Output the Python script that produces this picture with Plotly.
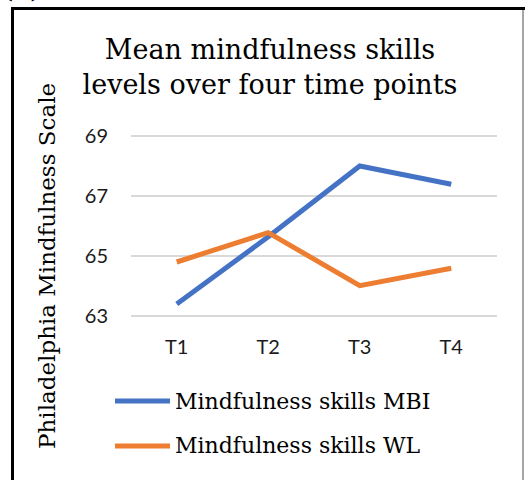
import plotly.graph_objects as go

categories = ["T1", "T2", "T3", "T4"]
mbi_values = [63.4, 65.64, 68.0, 67.39]
wl_values = [64.8, 65.78, 64.01, 64.59]
series_names = ["Mindfulness skills MBI", "Mindfulness skills WL"]
series_colors = ["#4472C4", "#ED7D31"]
y_ticks = [63, 65, 67, 69]
title_text = "Mean mindfulness skills<br>levels over four time points"
y_title = "Philadelphia Mindfulness Scale"

W, H = 525, 480
Y0, Y1 = 62.9, 69.1
L, R = 131, 497
T, B = 136 - 0.1 * 30, 316 + 0.1 * 30  # plot area in px


def px(x):
    return (x - L) / (R - L)


def py(y):
    return (B - y) / (B - T)


SERIF = "DejaVu Serif"
SANS = "Lato"

fig = go.Figure()
for name, vals, col in zip(series_names, [mbi_values, wl_values], series_colors):
    fig.add_trace(go.Scatter(x=categories, y=vals, mode="lines", name=name,
                             line=dict(color=col, width=5), showlegend=False))

shapes = [
    dict(type="line", xref="paper", yref="paper", x0=px(11), x1=px(525), y0=py(8.5), y1=py(8.5),
         line=dict(color="black", width=3)),
    dict(type="line", xref="paper", yref="paper", x0=px(12.5), x1=px(12.5), y0=py(8), y1=py(490),
         line=dict(color="black", width=3)),
    dict(type="line", xref="paper", yref="paper", x0=px(523), x1=px(523), y0=py(10), y1=py(490),
         line=dict(color="#A6A6A6", width=2)),
]
annotations = [
    dict(text=y_title, xref="paper", yref="paper", x=px(47), y=py(266), textangle=-90,
         showarrow=False, font=dict(family=SERIF, size=23, color="black"),
         xanchor="center", yanchor="middle"),
    dict(text="<b>(c)</b>", xref="paper", yref="paper", x=px(-2), y=py(6), showarrow=False,
         font=dict(family=SERIF, size=28, color="black"), xanchor="left", yanchor="bottom"),
]
legend_y = [401, 446]
for name, col, ly in zip(series_names, series_colors, legend_y):
    shapes.append(dict(type="line", xref="paper", yref="paper", x0=px(115), x1=px(170),
                       y0=py(ly), y1=py(ly), line=dict(color=col, width=5)))
    annotations.append(dict(text=name, xref="paper", yref="paper", x=px(173), y=py(ly),
                            showarrow=False, xanchor="left", yanchor="middle",
                            font=dict(family=SERIF, size=22, color="black")))

fig.update_layout(
    width=W, height=H,
    margin=dict(l=L, r=W - R, t=T, b=H - B, pad=0),
    paper_bgcolor="white", plot_bgcolor="white",
    title=dict(text=title_text, x=270 / W, xanchor="center", xref="container",
               y=1 - 59 / H, yanchor="top", yref="container",
               font=dict(family=SERIF, size=27, color="black")),
    xaxis=dict(type="category", range=[-0.5, 3.5], showgrid=False, showline=False,
               zeroline=False, ticks="", ticklabelstandoff=14,
               tickfont=dict(family=SANS, size=20, color="#1a1a1a")),
    yaxis=dict(range=[Y0, Y1], tickvals=y_ticks, showgrid=True, gridcolor="#D9D9D9",
               gridwidth=1.5, showline=False, zeroline=False, ticks="", ticklabelstandoff=22,
               tickfont=dict(family=SANS, size=20, color="#1a1a1a")),
    shapes=shapes, annotations=annotations, showlegend=False,
)
fig.write_html("out.html", config={"displayModeBar": False},
               post_script="document.body.style.margin='0';")
